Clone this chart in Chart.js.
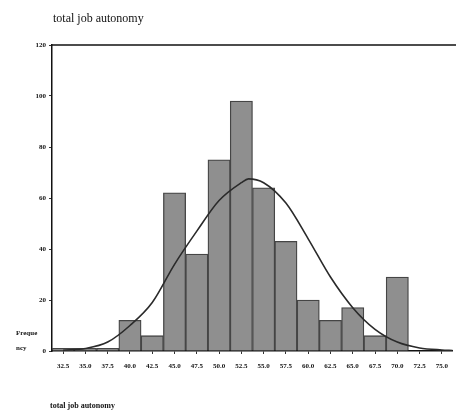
<html>
<head>
<title>total job autonomy</title>
<script src="https://cdn.jsdelivr.net/npm/chart.js@4.4.0/dist/chart.umd.min.js"></script>
<style>
  body { margin: 0; background: #fff; }
  #wrap { width: 456px; height: 414px; }
</style>
</head>
<body>
<div id="wrap"><canvas id="hist" width="456" height="414"></canvas></div>
<script>
// class midpoints and counts
var binLabels = ['32.5', '35.0', '37.5', '40.0', '42.5', '45.0', '47.5', '50.0', '52.5',
                 '55.0', '57.5', '60.0', '62.5', '65.0', '67.5', '70.0', '72.5', '75.0'];
var binCounts = [1, 1, 1, 12, 6, 62, 38, 75, 98, 64, 43, 20, 12, 17, 6, 29, 0, 0];

// fitted normal curve
var curveX = [32.5, 35, 37.5, 40, 42.5, 45, 47.5, 50, 52.5, 53.3, 55, 57.5, 60, 62.5, 65, 67.5, 70, 72.5, 75, 76.2];
var curveY = [0.3, 1, 3.5, 10, 19, 34, 47, 59, 66, 67.5, 66, 58, 44, 29, 17, 8.5, 3.5, 1.2, 0.4, 0.2];

var yTicks = [0, 20, 40, 60, 80, 100, 120];

var curvePts = [];
for (var i = 0; i < curveX.length; i++) {
    curvePts.push({ x: curveX[i], y: curveY[i] });
}

var textPlugin = {
    id: 'spssText',
    afterDraw: function (chart) {
        var ctx = chart.ctx;
        var a = chart.chartArea;
        ctx.save();
        // top frame line
        ctx.strokeStyle = '#111';
        ctx.lineWidth = 1.5;
        ctx.beginPath();
        ctx.moveTo(a.left, a.top);
        ctx.lineTo(456, a.top);
        ctx.stroke();

        ctx.fillStyle = '#111';
        ctx.textBaseline = 'middle';
        ctx.font = '12px "Liberation Serif"';
        ctx.fillText('total job autonomy', 53, 19);

        ctx.font = 'bold 7px "Liberation Serif"';
        ctx.fillText('Freque', 16, 333);
        ctx.fillText('ncy', 16, 348);

        ctx.font = 'bold 8px "Liberation Serif"';
        ctx.fillText('total job autonomy', 50, 406);
        ctx.restore();
    }
};

new Chart(document.getElementById('hist'), {
    data: {
        labels: binLabels,
        datasets: [{
            type: 'line',
            data: curvePts,
            xAxisID: 'x2',
            borderColor: '#2a2a2a',
            borderWidth: 1.6,
            pointRadius: 0,
            tension: 0.4,
            cubicInterpolationMode: 'monotone',
            fill: false
        }, {
            type: 'bar',
            data: binCounts,
            xAxisID: 'x',
            grouped: false,
            backgroundColor: '#8f8f8f',
            borderColor: '#454545',
            borderWidth: 1.3,
            barPercentage: 1,
            categoryPercentage: 1
        }]
    },
    options: {
        responsive: false,
        animation: false,
        layout: { padding: { top: 45, right: 1, left: 0, bottom: 0 } },
        plugins: { legend: { display: false }, tooltip: { enabled: false } },
        scales: {
            x: {
                type: 'category',
                offset: true,
                afterFit: function (s) { s.height = 63; },
                grid: { display: true, drawOnChartArea: false, drawTicks: true, tickLength: 3, color: '#333', offset: false },
                border: { display: true, color: '#111', width: 1.5 },
                ticks: { color: '#111', font: { family: 'Liberation Serif', size: 7, weight: 'bold' }, padding: 8, maxRotation: 0, autoSkip: false }
            },
            x2: {
                type: 'linear',
                display: false,
                min: 31.25,
                max: 76.25
            },
            y: {
                min: 0,
                max: 120,
                afterFit: function (s) { s.width = 52; },
                afterBuildTicks: function (s) { s.ticks = yTicks.map(function (v) { return { value: v }; }); },
                grid: { display: true, drawOnChartArea: false, drawTicks: true, tickLength: 3, color: '#333' },
                border: { display: true, color: '#111', width: 1.5 },
                ticks: { color: '#111', font: { family: 'Liberation Serif', size: 7, weight: 'bold' }, padding: 3 }
            }
        }
    },
    plugins: [textPlugin]
});
</script>
</body>
</html>
